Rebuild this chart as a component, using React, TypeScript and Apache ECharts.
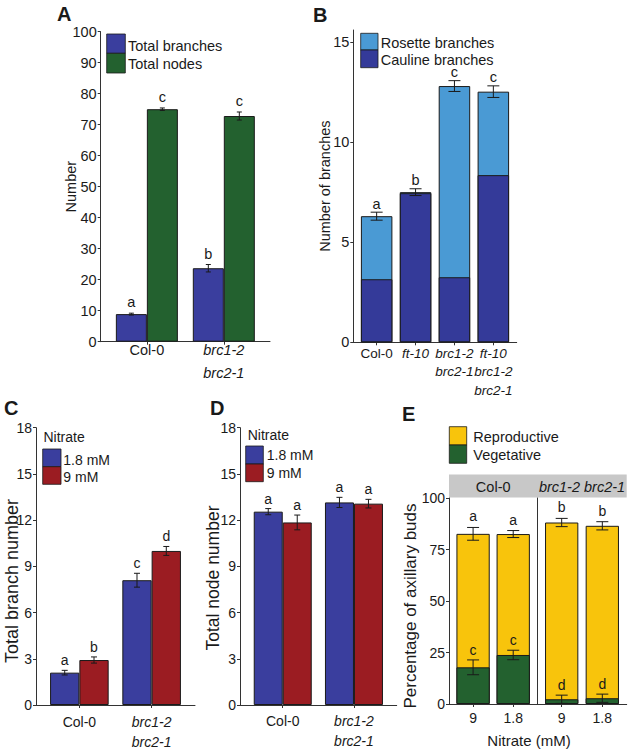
import React, { useEffect, useRef } from "react";
import * as echarts from "echarts";

const FONT = '"Liberation Sans", Arial, Helvetica, sans-serif';
const INK = "#1a1a1a";
const AXIS = "#333333";

// ---------- Panel A ----------
const aCategories = ["Col-0", "brc1-2\nbrc2-1"];
const aNames = ["Total branches", "Total nodes"];
const aBranches = [8.9, 23.7];
const aBranchesErr = [0.3, 1.2];
const aBranchLetters = ["a", "b"];
const aNodes = [75.0, 72.8];
const aNodesErr = [0.4, 1.3];
const aNodeLetters = ["c", "c"];

// ---------- Panel B ----------
const bCategories = ["Col-0", "ft-10", "brc1-2\nbrc2-1", "ft-10\nbrc1-2\nbrc2-1"];
const bNames = ["Rosette branches", "Cauline branches"];
const bCauline = [3.15, 7.45, 3.25, 8.35];
const bRosette = [3.15, 0.05, 9.55, 4.17];
const bTotalErr = [0.2, 0.17, 0.27, 0.29];
const bLetters = ["a", "b", "c", "c"];
const bYTicks = [0, 5, 10, 15];

// ---------- Panel C ----------
const nitrateNames = ["1.8 mM", "9 mM"];
const cCategories = ["Col-0", "brc1-2\nbrc2-1"];
const cLow = [2.1, 8.1];
const cLowErr = [0.15, 0.45];
const cLowLetters = ["a", "c"];
const cHigh = [2.92, 10.0];
const cHighErr = [0.2, 0.29];
const cHighLetters = ["b", "d"];

// ---------- Panel D ----------
const dCategories = ["Col-0", "brc1-2\nbrc2-1"];
const dLow = [12.55, 13.15];
const dLowErr = [0.2, 0.33];
const dLowLetters = ["a", "a"];
const dHigh = [11.85, 13.07];
const dHighErr = [0.48, 0.28];
const dHighLetters = ["a", "a"];

// ---------- Panel E ----------
const eNames = ["Reproductive", "Vegetative"];
const eGenotypes = ["Col-0", "brc1-2 brc2-1"];
const eNitrate = ["9", "1.8"];
const eVegCol = [17.8, 23.8];
const eVegColErr = [3.6, 2.3];
const eRepCol = [64.8, 58.7];
const eTotalColErr = [3.1, 1.7];
const eVegBrc = [2.3, 2.8];
const eVegBrcErr = [2.0, 2.0];
const eRepBrc = [85.8, 83.7];
const eTotalBrcErr = [2.0, 2.0];
const eTopLettersCol = ["a", "a"];
const eTopLettersBrc = ["b", "b"];
const eVegLettersCol = ["c", "c"];
const eVegLettersBrc = ["d", "d"];

// colours
const BLUE = "#3a3e9e";
const GREEN = "#23612f";
const RED = "#9b1c22";
const LIGHTBLUE = "#4a9ad4";
const DARKBLUE = "#343a99";
const YELLOW = "#f8c40c";
const STRIP = "#c8c8c8";

function richLabel(label: string) {
  const italic = label !== "Col-0";
  return label
    .split("\n")
    .map((l) => `{${italic ? "i" : "n"}|${l}}`)
    .join("\n");
}

function catAxis(
  gridIndex: number,
  cats: string[],
  fontSize: number,
  lineHeight: number,
  margin: number,
  plain = false
) {
  const idx = cats.map((_, i) => i);
  const base = { fontFamily: FONT, fontSize, lineHeight, color: INK };
  return {
    type: "value",
    gridIndex,
    min: -0.6,
    max: cats.length - 0.4,
    splitLine: { show: false },
    axisLine: { show: true, onZero: false, lineStyle: { color: AXIS, width: 1 } },
    axisTick: { show: true, customValues: idx, length: 3, lineStyle: { color: AXIS } },
    axisLabel: {
      show: true,
      customValues: idx,
      margin,
      showMinLabel: true,
      showMaxLabel: true,
      hideOverlap: false,
      formatter: (v: number) => {
        const l = cats[Math.round(v)] ?? "";
        return plain ? `{n|${l}}` : richLabel(l);
      },
      rich: {
        n: { ...base, fontStyle: "normal" },
        i: { ...base, fontStyle: "italic" },
      },
    },
  };
}

function valAxis(
  gridIndex: number,
  max: number,
  interval: number | null,
  fontSize: number,
  name: string,
  nameGap: number,
  nameSize: number,
  extra: any = {}
) {
  const ax: any = {
    type: "value",
    gridIndex,
    min: 0,
    max,
    splitLine: { show: false },
    axisLine: { show: true, onZero: false, lineStyle: { color: AXIS, width: 1 } },
    axisTick: { show: true, length: 3, lineStyle: { color: AXIS } },
    axisLabel: { show: true, fontFamily: FONT, fontSize, color: INK, margin: 4, showMinLabel: true, showMaxLabel: true },
    name,
    nameLocation: "middle",
    nameGap,
    nameMoveOverlap: false,
    nameTextStyle: { fontFamily: FONT, fontSize: nameSize, color: INK },
  };
  if (interval != null) ax.interval = interval;
  return {
    ...ax,
    ...extra,
    axisLabel: { ...ax.axisLabel, ...(extra.axisLabel || {}) },
    axisTick: { ...ax.axisTick, ...(extra.axisTick || {}) },
  };
}

// bars drawn on a value-typed x axis; "overlap" puts the series exactly over the previous one
function barSeries(
  xi: number,
  name: string,
  values: number[],
  color: string,
  barWidth: number,
  overlap = false
) {
  return {
    type: "bar",
    name,
    xAxisIndex: xi,
    yAxisIndex: xi,
    data: values.map((v, i) => [i, v]),
    barWidth,
    barGap: overlap ? "-100%" : "0%",
    itemStyle: { color, borderColor: INK, borderWidth: 1 },
    emphasis: { disabled: true },
  };
}

function errSeries(
  xi: number,
  means: number[],
  errs: number[],
  letters: string[],
  offset: number,
  capHalf: number,
  letterGap: number,
  fontSize: number
) {
  return {
    type: "custom",
    xAxisIndex: xi,
    yAxisIndex: xi,
    z: 5,
    silent: true,
    data: means.map((m, i) => [i, m, errs[i]]),
    renderItem: (params: any, api: any) => {
      const i = params.dataIndex;
      const x = api.value(0);
      const m = api.value(1);
      const e = api.value(2);
      const top = api.coord([x, m + e]);
      const bot = api.coord([x, m - e]);
      const cx = top[0] + offset;
      const ls = { stroke: INK, lineWidth: 1, fill: null };
      return {
        type: "group",
        children: [
          { type: "line", shape: { x1: cx, y1: top[1], x2: cx, y2: bot[1] }, style: ls },
          { type: "line", shape: { x1: cx - capHalf, y1: top[1], x2: cx + capHalf, y2: top[1] }, style: ls },
          { type: "line", shape: { x1: cx - capHalf, y1: bot[1], x2: cx + capHalf, y2: bot[1] }, style: ls },
          {
            type: "text",
            x: cx,
            y: top[1] - letterGap,
            style: {
              text: letters[i],
              fill: INK,
              fontFamily: FONT,
              fontSize,
              lineHeight: Math.round(fontSize * 0.75),
              align: "center",
              verticalAlign: "middle",
              textAlign: "center",
              textVerticalAlign: "middle",
            },
          },
        ],
      };
    },
  };
}

function gtext(x: number, y: number, text: string, fontSize: number, extra: any = {}, rotation = 0) {
  return {
    type: "text",
    x,
    y,
    rotation,
    silent: true,
    style: {
      text,
      fill: INK,
      fontFamily: FONT,
      fontSize,
      lineHeight: Math.round(fontSize * 0.85),
      align: "left",
      verticalAlign: "middle",
      textAlign: "left",
      textVerticalAlign: "middle",
      ...extra,
    },
  };
}

function vtitle(x: number, y: number, text: string, fontSize: number) {
  return gtext(x, y, text, fontSize, { align: "center", textAlign: "center" }, Math.PI / 2);
}

function grect(x: number, y: number, w: number, h: number, color: string) {
  return {
    type: "rect",
    silent: true,
    shape: { x, y, width: w, height: h },
    style: { fill: color, stroke: INK, lineWidth: 0.8 },
  };
}

export default function App() {
  const ref = useRef<HTMLDivElement>(null);

  useEffect(() => {
    if (!ref.current) return;
    const chart = echarts.init(ref.current, null, { renderer: "svg" });

    const grids = [
      { left: 100.7, top: 31.7, width: 169.3, height: 310 }, // A
      { left: 353.3, top: 30, width: 163.4, height: 312.3 }, // B
      { left: 36, top: 427.7, width: 159, height: 277.3 }, // C
      { left: 240, top: 427.7, width: 156.7, height: 277.3 }, // D
      { left: 449, top: 498, width: 88.3, height: 206 }, // E left
      { left: 537.3, top: 498, width: 89.4, height: 206 }, // E right
    ].map((g) => ({ ...g, containLabel: false, outerBoundsMode: "none" }));

    const xAxis = [
      catAxis(0, aCategories, 14.5, 23, -3.2),
      catAxis(1, bCategories, 13.5, 18.5, 1.5),
      catAxis(2, cCategories, 14, 20, 6.7),
      catAxis(3, dCategories, 14, 20, 5.5),
      catAxis(4, eNitrate, 14, 14, 6.7, true),
      catAxis(5, eNitrate, 14, 14, 6.7, true),
    ];

    const yAxis = [
      valAxis(0, 100, 10, 14.5, "Number", 22.5, 14.5),
      valAxis(1, 15.6, null, 14.5, "Number of branches", 21, 14.5, {
        axisLabel: { customValues: bYTicks },
        axisTick: { customValues: bYTicks },
      }),
      valAxis(2, 18, 3, 14, "", 10, 14),
      valAxis(3, 18, 3, 14, "", 10, 14),
      valAxis(4, 100, 25, 14, "", 10, 14),
      valAxis(5, 100, 25, 14, "", 10, 14, {
        axisLabel: { show: false },
        axisTick: { show: false },
      }),
    ];

    const bTotals = bCauline.map((v, i) => v + bRosette[i]);
    const eTotCol = eVegCol.map((v, i) => v + eRepCol[i]);
    const eTotBrc = eVegBrc.map((v, i) => v + eRepBrc[i]);

    const aBW = 31;
    const cBW = 29.3;
    const dBW = 29;
    const series: any[] = [
      // A
      barSeries(0, aNames[0], aBranches, BLUE, aBW),
      barSeries(0, aNames[1], aNodes, GREEN, aBW),
      errSeries(0, aBranches, aBranchesErr, aBranchLetters, -aBW / 2, 2.5, 11, 14.5),
      errSeries(0, aNodes, aNodesErr, aNodeLetters, aBW / 2, 2.5, 11, 14.5),
      // B (rosette stacked on cauline)
      barSeries(1, bNames[0], bTotals, LIGHTBLUE, 31.5),
      barSeries(1, bNames[1], bCauline, DARKBLUE, 31.5, true),
      errSeries(1, bTotals, bTotalErr, bLetters, 0, 6, 8.5, 14.5),
      // C
      barSeries(2, nitrateNames[0], cLow, BLUE, cBW),
      barSeries(2, nitrateNames[1], cHigh, RED, cBW),
      errSeries(2, cLow, cLowErr, cLowLetters, -cBW / 2, 3, 10, 14),
      errSeries(2, cHigh, cHighErr, cHighLetters, cBW / 2, 3, 10, 14),
      // D
      barSeries(3, nitrateNames[0], dLow, BLUE, dBW),
      barSeries(3, nitrateNames[1], dHigh, RED, dBW),
      errSeries(3, dLow, dLowErr, dLowLetters, -dBW / 2, 3, 10, 14),
      errSeries(3, dHigh, dHighErr, dHighLetters, dBW / 2, 3, 10, 14),
      // E (reproductive stacked on vegetative)
      barSeries(4, eNames[0], eTotCol, YELLOW, 33.3),
      barSeries(4, eNames[1], eVegCol, GREEN, 33.3, true),
      barSeries(5, eNames[0], eTotBrc, YELLOW, 33.3),
      barSeries(5, eNames[1], eVegBrc, GREEN, 33.3, true),
      errSeries(4, eVegCol, eVegColErr, eVegLettersCol, 0, 6, 10, 14),
      errSeries(4, eTotCol, eTotalColErr, eTopLettersCol, 0, 6, 11, 14),
      errSeries(5, eVegBrc, eVegBrcErr, eVegLettersBrc, 0, 6, 10, 14),
      errSeries(5, eTotBrc, eTotalBrcErr, eTopLettersBrc, 0, 6, 11, 14),
    ];

    const panelFont = { fontWeight: "bold", fontSize: 20 };
    const graphic: any[] = [
      // panel letters
      gtext(57, 14, "A", 20, panelFont),
      gtext(313, 15, "B", 20, panelFont),
      gtext(4, 408, "C", 20, panelFont),
      gtext(210, 408, "D", 20, panelFont),
      gtext(402, 414, "E", 20, panelFont),
      // y titles of C, D, E
      vtitle(12, 581, "Total branch number", 18),
      vtitle(213, 578, "Total node number", 17.5),
      vtitle(410.5, 606, "Percentage of axillary buds", 17),
      // legend A
      grect(106.7, 34, 18.6, 19.3, BLUE),
      grect(106.7, 53.3, 18.6, 19.7, GREEN),
      gtext(128, 45.5, aNames[0], 14.5),
      gtext(128, 64, aNames[1], 14.5),
      // legend B
      grect(360.7, 33.3, 17.3, 16.7, LIGHTBLUE),
      grect(360.7, 50, 17.3, 17.7, DARKBLUE),
      gtext(380.7, 42.5, bNames[0], 14.5),
      gtext(380.7, 60.3, bNames[1], 14.5),
      // legend C
      gtext(43.5, 437, "Nitrate", 14),
      grect(42.7, 449, 18.3, 17.7, BLUE),
      grect(42.7, 466.7, 18.3, 17.6, RED),
      gtext(63.3, 460, nitrateNames[0], 14),
      gtext(63.3, 477.3, nitrateNames[1], 14),
      // legend D
      gtext(247.7, 435, "Nitrate", 14),
      grect(245.7, 446, 17.6, 18, BLUE),
      grect(245.7, 464, 17.6, 17.7, RED),
      gtext(266.7, 455, nitrateNames[0], 14),
      gtext(266.7, 472.7, nitrateNames[1], 14),
      // legend E
      grect(449.3, 426.7, 17.4, 18.3, YELLOW),
      grect(449.3, 445, 17.4, 18.3, GREEN),
      gtext(473.3, 437.3, eNames[0], 14.5),
      gtext(473.3, 455, eNames[1], 14.5),
      // facet strip E
      {
        type: "rect",
        silent: true,
        shape: { x: 449, y: 474.5, width: 177.7, height: 23 },
        style: { fill: STRIP },
      },
      gtext(493.2, 486.5, eGenotypes[0], 14.5, { align: "center", textAlign: "center" }),
      gtext(582, 486.5, eGenotypes[1], 14.5, {
        align: "center",
        textAlign: "center",
        fontStyle: "italic",
      }),
      gtext(529, 740, "Nitrate (mM)", 15, { align: "center", textAlign: "center" }),
    ];

    chart.setOption({
      animation: false,
      backgroundColor: "#ffffff",
      textStyle: { fontFamily: FONT },
      grid: grids,
      xAxis,
      yAxis,
      series,
      graphic,
    });

    return () => chart.dispose();
  }, []);

  return (
    <div
      ref={ref}
      style={{ position: "fixed", left: 0, top: 0, width: 630, height: 752, background: "#fff" }}
    />
  );
}
